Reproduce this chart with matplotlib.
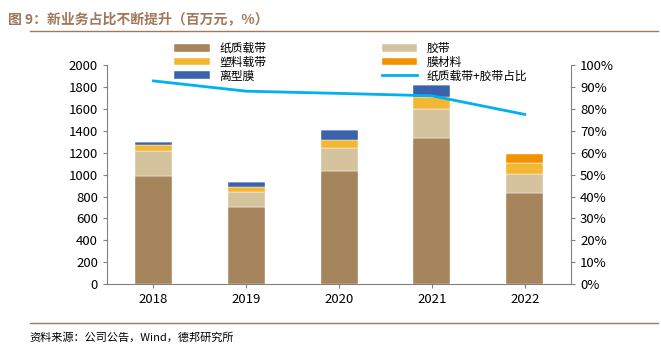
import matplotlib.pyplot as plt
import numpy as np

plt.rcParams['font.family'] = ['Noto Sans CJK SC', 'DejaVu Sans']

years = ['2018', '2019', '2020', '2021', '2022']
paper = [990, 700, 1035, 1330, 835]
tape = [230, 140, 205, 265, 170]
plastic = [50, 45, 75, 110, 100]
release = [30, 45, 90, 115, 0]
film_mat = [0, 0, 0, 0, 85]
ratio = [92.8, 88.1, 87.1, 86.0, 77.5]

fig = plt.figure(figsize=(6.61, 3.56), dpi=100)
ax = fig.add_axes([0.162, 0.202, 0.702, 0.615])
x = np.arange(len(years))
w = 0.4

b = np.zeros(len(years))
for vals, col, lab in [(paper, '#A6845C', '纸质载带'), (tape, '#D5C39E', '胶带'),
                       (plastic, '#F4B731', '塑料载带'), (release, '#3A62AD', '离型膜'),
                       (film_mat, '#F39200', '膜材料')]:
    ax.bar(x, vals, w, bottom=b, color=col, label=lab, edgecolor='white', linewidth=0.3)
    b += np.array(vals)

ax.set_ylim(0, 2000)
ax.set_yticks(range(0, 2001, 200))
ax.set_xlim(-0.5, 4.5)
ax.set_xticks(x)
ax.set_xticklabels(years)

ax2 = ax.twinx()
ax2.plot(x, ratio, color='#00B0F0', linewidth=2, label='纸质载带+胶带占比')
ax2.set_ylim(0, 100)
ax2.set_yticks(range(0, 101, 10))
ax2.set_yticklabels([f'{v}%' for v in range(0, 101, 10)])

for a in (ax, ax2):
    a.spines['top'].set_visible(False)
    for s in a.spines.values():
        s.set_color('#808080')
    a.tick_params(direction='out', length=3, color='#808080', labelsize=9.5)
ax.spines['right'].set_visible(False)
ax2.spines['bottom'].set_visible(False)
ax2.spines['left'].set_visible(False)

# legend: column 1 = paper, plastic, release; column 2 = tape, film material, line
h1, l1 = ax.get_legend_handles_labels()
h2, l2 = ax2.get_legend_handles_labels()
order = [0, 2, 3, 1, 4]
handles = [h1[i] for i in order] + h2
labels = [l1[i] for i in order] + l2
fig.legend(handles, labels, ncol=2, loc='upper left', bbox_to_anchor=(0.255, 0.898),
           frameon=False, fontsize=8.5, handlelength=3.0, handleheight=0.6,
           columnspacing=9.8, labelspacing=0.05, borderpad=0)

fig.text(0.012, 0.945, '图 9：新业务占比不断提升（百万元，%）', color='#A0785A',
         fontsize=10, fontweight='bold', va='center')
fig.add_artist(plt.Line2D([0.045, 0.995], [0.912, 0.912], color='#A0785A', linewidth=1))
fig.add_artist(plt.Line2D([0.045, 0.995], [0.093, 0.093], color='#A0785A', linewidth=1))
fig.text(0.045, 0.052, '资料来源：公司公告，Wind，德邦研究所', fontsize=8, va='center')

fig.savefig('out.png', dpi=100)
